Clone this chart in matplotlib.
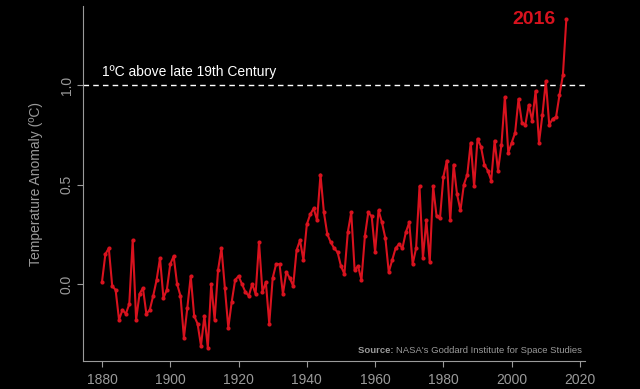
import numpy as np
import matplotlib
matplotlib.use("Agg")
import matplotlib.pyplot as plt

# anomalias anuales (ºC), 1880-2016
years = np.arange(1880, 2017)
anomaly = [
    0.01, 0.15, 0.18, -0.01, -0.03, -0.18, -0.13, -0.15, -0.10, 0.22,   # 1880s
    -0.18, -0.05, -0.02, -0.15, -0.13, -0.06, 0.02, 0.13, -0.07, -0.03,  # 1890s
    0.10, 0.14, 0.00, -0.06, -0.27, -0.12, 0.04, -0.16, -0.20, -0.31,    # 1900s
    -0.16, -0.32, 0.00, -0.18, 0.07, 0.18, -0.02, -0.22, -0.09, 0.02,    # 1910s
    0.04, 0.00, -0.04, -0.06, 0.00, -0.05, 0.21, -0.04, 0.01, -0.20,     # 1920s
    0.03, 0.10, 0.10, -0.05, 0.06, 0.03, -0.01, 0.17, 0.22, 0.12,        # 1930s
    0.30, 0.35, 0.38, 0.32, 0.55, 0.36, 0.25, 0.21, 0.18, 0.16,          # 1940s
    0.09, 0.05, 0.26, 0.36, 0.07, 0.09, 0.02, 0.24, 0.36, 0.34,          # 1950s
    0.16, 0.37, 0.31, 0.23, 0.06, 0.12, 0.18, 0.20, 0.18, 0.26,          # 1960s
    0.31, 0.10, 0.18, 0.49, 0.13, 0.32, 0.11, 0.49, 0.34, 0.33,          # 1970s
    0.54, 0.62, 0.32, 0.60, 0.45, 0.37, 0.50, 0.55, 0.71, 0.49,          # 1980s
    0.73, 0.69, 0.60, 0.57, 0.52, 0.72, 0.57, 0.70, 0.94, 0.66,          # 1990s
    0.71, 0.76, 0.93, 0.81, 0.80, 0.90, 0.82, 0.97, 0.71, 0.85,          # 2000s
    1.02, 0.80, 0.83, 0.84, 0.95, 1.05, 1.33,                            # 2010s
]
x_ticks = [1880, 1900, 1920, 1940, 1960, 1980, 2000, 2020]
y_ticks = [0.0, 0.5, 1.0]
threshold = 1.0

RED = "#d8121e"
GREY = "#9a9a9a"

plt.rcParams["font.family"] = ["Liberation Sans", "DejaVu Sans"]

fig = plt.figure(figsize=(6.4, 3.89), dpi=100, facecolor="black")
ax = fig.add_axes([0.1303, 0.0725, 0.7836, 0.9115], facecolor="black")

ax.plot(years, anomaly, color=RED, lw=1.5, marker="o", ms=3, mew=0, zorder=3)
ax.axhline(threshold, color="white", lw=1, ls=(0, (4, 3)), zorder=2)

# limites estilo R (4% de margen)
def padded(lo, hi):
    d = (hi - lo) * 0.04
    return lo - d, hi + d

ax.set_xlim(*padded(years[0], years[-1]))
ax.set_ylim(*padded(min(anomaly), max(anomaly)))

ax.set_xticks(x_ticks)
ax.set_yticks(y_ticks)
ax.set_yticklabels([f"{v:.1f}" for v in y_ticks], rotation=90, va="center")
ax.tick_params(colors=GREY, labelsize=10, length=4, width=0.8, pad=5)
ax.tick_params(axis="y", pad=3)
for side in ("top", "right"):
    ax.spines[side].set_visible(False)
for side in ("left", "bottom"):
    ax.spines[side].set_color(GREY)
    ax.spines[side].set_linewidth(0.8)

ax.set_ylabel("Temperature Anomaly (ºC)", color=GREY, fontsize=10, labelpad=12)

ax.text(1880, threshold + 0.03, "1ºC above late 19th Century", color="white",
        fontsize=10, ha="left", va="bottom")
ax.text(years[-1] - 3, anomaly[-1], str(years[-1]), color=RED, fontsize=14,
        fontweight="bold", ha="right", va="center")

# fuente: parte en negrita + parte normal
src = ax.text(0.995, 0.015, "NASA's Goddard Institute for Space Studies",
              transform=ax.transAxes, color=GREY, fontsize=6.8, ha="right",
              va="bottom")
fig.canvas.draw()
bb = src.get_window_extent().transformed(ax.transAxes.inverted())
ax.text(bb.x0, 0.015, "Source: ", transform=ax.transAxes, color=GREY,
        fontsize=6.8, fontweight="bold", ha="right", va="bottom")

fig.savefig("out.png", dpi=100, facecolor="black")
